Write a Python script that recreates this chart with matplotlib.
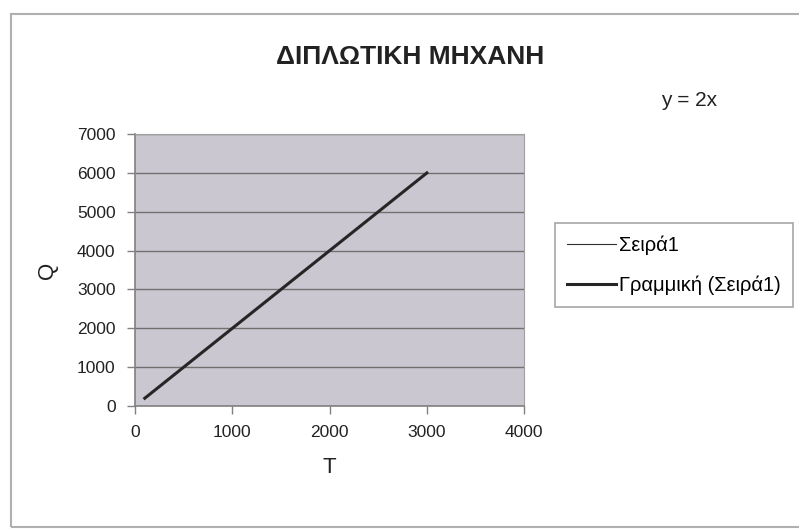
import matplotlib
matplotlib.use("Agg")
import matplotlib.pyplot as plt
from matplotlib.patches import Rectangle
import numpy as np

# Δεδομένα: θερμοκρασία T και θερμότητα Q
T = [100, 500, 1000, 1500, 2000, 2500, 3000]
Q = [200, 1000, 2000, 3000, 4000, 5000, 6000]
x_ticks = [0, 1000, 2000, 3000, 4000]
y_ticks = [0, 1000, 2000, 3000, 4000, 5000, 6000, 7000]

FONT = ["Liberation Sans Narrow", "Liberation Sans", "DejaVu Sans"]
plt.rcParams["font.family"] = FONT

fig = plt.figure(figsize=(7.99, 5.29), dpi=100)
fig.patch.set_facecolor("white")

# πλαίσιο γραφήματος
fig.add_artist(Rectangle((0.014, 0.004), 1.0, 0.97, transform=fig.transFigure,
                         fill=False, edgecolor="#b0b0b0", linewidth=1.5))

ax = fig.add_axes([0.169, 0.2325, 0.487, 0.514])
ax.set_facecolor("#cac7d1")

# γραμμή δεδομένων και γραμμική τάση
ax.plot(T, Q, color="#303030", linewidth=0.8, label="Σειρά1")
coef = np.polyfit(T, Q, 1)
trend = np.polyval(coef, T)
ax.plot(T, trend, color="#262626", linewidth=2.2, label="Γραμμική (Σειρά1)")

ax.set_xlim(0, 4000)
ax.set_ylim(0, 7000)
ax.set_xticks(x_ticks)
ax.set_yticks(y_ticks)
ax.yaxis.grid(True, color="#707070", linewidth=1.0)
ax.set_axisbelow(True)
for s in ["top", "right"]:
    ax.spines[s].set_color("#a0a0a0")
for s in ["left", "bottom"]:
    ax.spines[s].set_color("#808080")
    ax.spines[s].set_linewidth(1.2)
ax.tick_params(axis="both", labelsize=12.5, colors="#808080", labelcolor="#222222",
               length=6, width=1, direction="out", pad=8)

ax.set_xlabel("T", fontsize=16, labelpad=12, color="#222222")
ax.set_ylabel("Q", fontsize=16, labelpad=14, color="#222222")

fig.text(0.513, 0.893, "ΔΙΠΛΩΤΙΚΗ ΜΗΧΑΝΗ", ha="center", va="center",
         fontsize=19, fontweight="bold", color="#222222")
fig.text(0.862, 0.81, f"y = {coef[0]:.0f}x", ha="center", va="center",
         fontsize=15, color="#222222")

leg = ax.legend(loc="center left", bbox_to_anchor=(1.08, 0.518), fontsize=14.5,
                frameon=True, fancybox=False, edgecolor="#909090",
                handlelength=2.4, handletextpad=0.15, borderpad=0.6,
                labelspacing=1.05, borderaxespad=0)
leg.get_frame().set_linewidth(1.2)

fig.savefig("out.png", dpi=100)
